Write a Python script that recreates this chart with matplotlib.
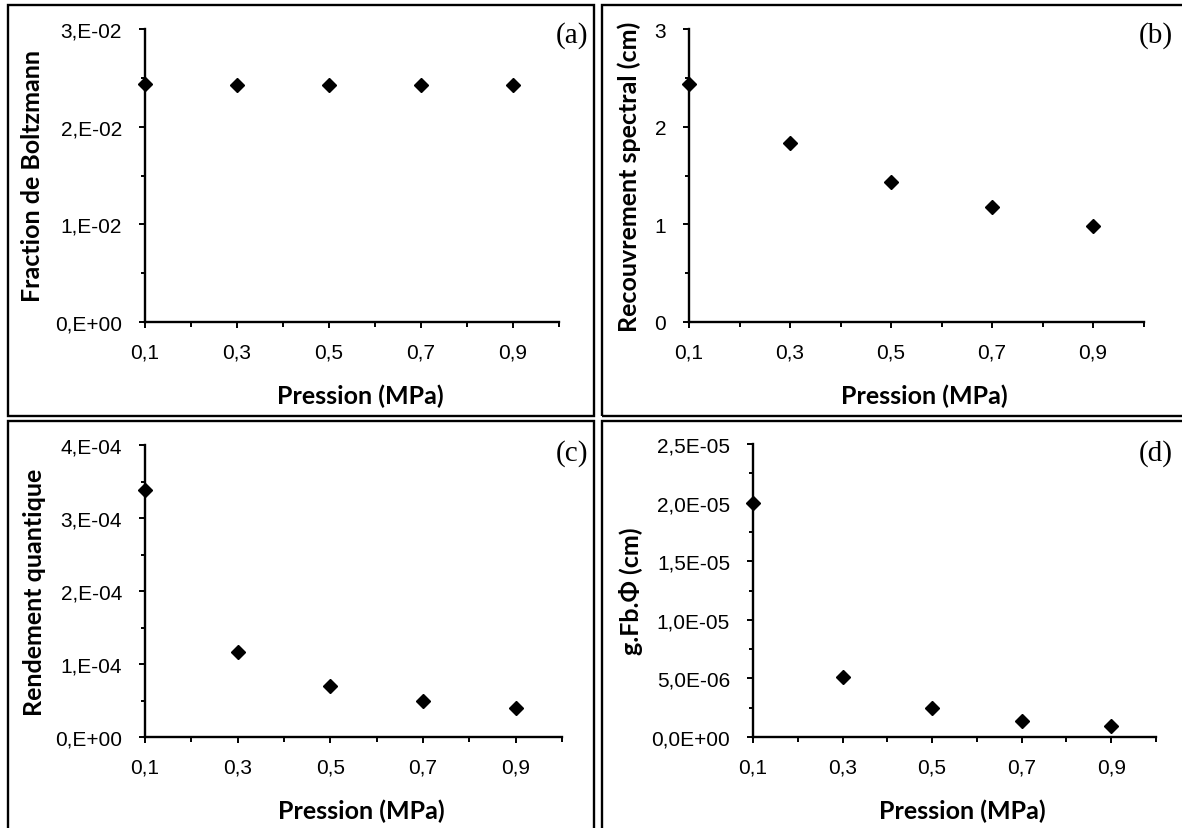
import matplotlib
matplotlib.use("Agg")
import matplotlib.pyplot as plt
from matplotlib.patches import Rectangle
from matplotlib.ticker import FixedLocator, MultipleLocator

# ---------------- data ----------------
pression = [0.1, 0.3, 0.5, 0.7, 0.9]
fraction_boltzmann = [0.0244, 0.0243, 0.0243, 0.0243, 0.0243]
recouvrement_spectral = [2.44, 1.83, 1.43, 1.18, 0.98]
rendement_quantique = [3.39e-4, 1.16e-4, 0.70e-4, 0.50e-4, 0.40e-4]
g_fb_phi = [2.0e-5, 5.1e-6, 2.5e-6, 1.4e-6, 0.95e-6]

x_ticks = [0.1, 0.3, 0.5, 0.7, 0.9]
x_ticklabels = ["0,1", "0,3", "0,5", "0,7", "0,9"]

yticks_a = [0.0, 0.01, 0.02, 0.03]
ylabels_a = ["0,E+00", "1,E-02", "2,E-02", "3,E-02"]
yticks_b = [0, 1, 2, 3]
ylabels_b = ["0", "1", "2", "3"]
yticks_c = [0.0, 1e-4, 2e-4, 3e-4, 4e-4]
ylabels_c = ["0,E+00", "1,E-04", "2,E-04", "3,E-04", "4,E-04"]
yticks_d = [0.0, 5e-6, 1e-5, 1.5e-5, 2e-5, 2.5e-5]
ylabels_d = ["0,0E+00", "5,0E-06", "1,0E-05", "1,5E-05", "2,0E-05", "2,5E-05"]

xlabel = "Pression (MPa)"
ylabel_a = "Fraction de Boltzmann"
ylabel_b = "Recouvrement spectral (cm)"
ylabel_c = "Rendement quantique"
ylabel_d = "g.Fb.\u03a6 (cm)"
panel_tags = ["(a)", "(b)", "(c)", "(d)"]

# ---------------- figure ----------------
W, H = 1182, 829
fig = plt.figure(figsize=(W / 100, H / 100), dpi=100)
fig.patch.set_facecolor("white")

TICK_FONT = "Liberation Sans"
LABEL_FONT = "Lato"
TAG_FONT = "Liberation Serif"
TICK_SIZE = 15
LABEL_SIZE = 18


def px_rect(l, t, r, b):
    return [l / W, 1 - b / H, (r - l) / W, (b - t) / H]


# panel frames
for (l, t, r, b) in [(8, 6, 594, 417), (602, 6, 1195, 417),
                     (8, 422, 594, 840), (602, 422, 1195, 840)]:
    fig.add_artist(Rectangle((l / W, 1 - b / H), (r - l) / W, (b - t) / H,
                             transform=fig.transFigure, fill=False,
                             lw=1.7, ec="black", zorder=0))

panels = [
    dict(rect=(145, 30, 559, 323), y=fraction_boltzmann, yt=yticks_a, yl=ylabels_a,
         ylim=(0, 0.03), minor=0.005, ylab=ylabel_a, ylab_x=33,
         tag_xy=(588, 36), xlab_y=396),
    dict(rect=(689, 30, 1143.5, 323), y=recouvrement_spectral, yt=yticks_b, yl=ylabels_b,
         ylim=(0, 3), minor=0.5, ylab=ylabel_b, ylab_x=629,
         tag_xy=(1173, 36), xlab_y=396),
    dict(rect=(145, 446, 562, 738), y=rendement_quantique, yt=yticks_c, yl=ylabels_c,
         ylim=(0, 4e-4), minor=0.5e-4, ylab=ylabel_c, ylab_x=35,
         tag_xy=(588, 454), xlab_y=811),
    dict(rect=(753, 445, 1156, 738), y=g_fb_phi, yt=yticks_d, yl=ylabels_d,
         ylim=(0, 2.5e-5), minor=0.25e-5, ylab=ylabel_d, ylab_x=631,
         tag_xy=(1173, 454), xlab_y=811),
]

for p, tag in zip(panels, panel_tags):
    l, t, r, b = p["rect"]
    ax = fig.add_axes(px_rect(l, t, r, b))
    ax.set_facecolor("none")
    ax.plot(pression, p["y"], linestyle="none", marker="D", markersize=7.2,
            color="black", clip_on=False, zorder=5)
    ax.set_xlim(0.1, 1.0)
    ax.set_ylim(*p["ylim"])
    for s in ("top", "right"):
        ax.spines[s].set_visible(False)
    for s in ("left", "bottom"):
        ax.spines[s].set_linewidth(1.7)
        ax.spines[s].set_color("black")
    ax.set_xticks(x_ticks)
    ax.set_xticklabels(x_ticklabels, fontfamily=TICK_FONT, fontsize=TICK_SIZE)
    ax.xaxis.set_minor_locator(FixedLocator([0.2, 0.4, 0.6, 0.8, 1.0]))
    ax.set_yticks(p["yt"])
    ax.set_yticklabels(p["yl"], fontfamily=TICK_FONT, fontsize=TICK_SIZE)
    ax.yaxis.set_minor_locator(MultipleLocator(p["minor"]))
    ax.tick_params(axis="x", which="major", direction="out", length=4.5, width=1.4,
                   pad=10.5, colors="black")
    ax.tick_params(axis="x", which="minor", direction="out", length=3.5, width=1.4)
    ax.tick_params(axis="y", which="major", direction="out", length=4.5, width=1.4,
                   pad=12, colors="black")
    ax.tick_params(axis="y", which="minor", direction="out", length=3, width=1.4)

    fig.text(p["ylab_x"] / W, 1 - ((t + b) / 2) / H, p["ylab"], rotation=90,
             ha="center", va="center", fontfamily=LABEL_FONT, fontweight="bold",
             fontsize=LABEL_SIZE)
    fig.text(((l + r) / 2 + 8) / W, 1 - p["xlab_y"] / H, xlabel,
             ha="center", va="center", fontfamily=LABEL_FONT, fontweight="bold",
             fontsize=LABEL_SIZE)
    tx, ty = p["tag_xy"]
    fig.text(tx / W, 1 - ty / H, tag, ha="right", va="center",
             fontfamily=TAG_FONT, fontsize=21)

fig.savefig("out.png", dpi=100, facecolor="white")
